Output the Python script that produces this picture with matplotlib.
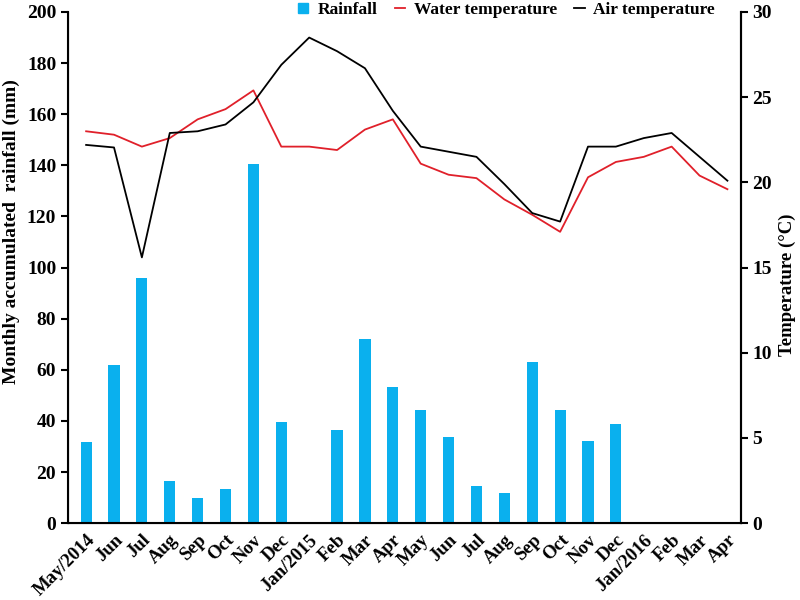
import numpy as np
import matplotlib.pyplot as plt

months = ['May/2014', 'Jun', 'Jul', 'Aug', 'Sep', 'Oct', 'Nov', 'Dec', 'Jan/2015', 'Feb',
          'Mar', 'Apr', 'May', 'Jun', 'Jul', 'Aug', 'Sep', 'Oct', 'Nov', 'Dec',
          'Jan/2016', 'Feb', 'Mar', 'Apr']
rainfall = [31.6, 61.7, 96.0, 16.7, 9.9, 13.5, 140.5, 39.7, 0.0, 36.6,
            71.9, 53.1, 44.4, 33.6, 14.5, 11.9, 63.1, 44.2, 32.2, 38.8,
            0.0, 0.2, 0.0, 0.0]
water_temp = [23.0, 22.8, 22.1, 22.6, 23.7, 24.3, 25.4, 22.1, 22.1, 21.9,
              23.1, 23.7, 21.1, 20.45, 20.25, 19.0, 18.1, 17.1, 20.3, 21.2,
              21.5, 22.1, 20.4, 19.6]
air_temp = [22.2, 22.05, 15.6, 22.9, 23.0, 23.4, 24.7, 26.9, 28.5, 27.7,
            26.7, 24.2, 22.1, 21.8, 21.5, 19.9, 18.2, 17.7, 22.1, 22.1,
            22.6, 22.9, 21.5, 20.1]

plt.rcParams['font.family'] = 'Liberation Serif'
plt.rcParams['font.weight'] = 'bold'

fig = plt.figure(figsize=(8, 6), dpi=100)
ax = fig.add_axes([0.085, 0.128, 0.841, 0.852])
x = np.arange(len(months))

ax.bar(x, rainfall, width=0.4, color='#0AB0EE', label='Rainfall')
ax.set_ylim(0, 200)
ax.set_xlim(-0.65, 23.48)
ax.set_yticks(range(0, 201, 20))
ax.set_xticks(x)
ax.set_xticklabels(months, rotation=45, ha='right', rotation_mode='anchor', fontsize=13.5, fontweight='bold')
ax.tick_params(axis='x', length=0, pad=6)
ax.tick_params(axis='y', direction='out', length=5, width=1.5, labelsize=14)
ax.set_ylabel('Monthly accumulated  rainfall (mm)', fontsize=14, fontweight='bold')
ax.yaxis.set_label_coords(-0.072, 0.57)
ax.spines['top'].set_visible(False)
for s in ['left', 'bottom', 'right']:
    ax.spines[s].set_linewidth(1.5)

ax2 = ax.twinx()
l1, = ax2.plot(x, water_temp, color='#E0202A', lw=1.3, label='Water temperature')
l2, = ax2.plot(x, air_temp, color='black', lw=1.3, label='Air temperature')
ax2.set_ylim(0, 30)
ax2.set_yticks(range(0, 31, 5))
ax2.tick_params(axis='y', direction='out', length=5, width=1.5, labelsize=14)
ax2.set_ylabel('Temperature (°C)', fontsize=13.5, fontweight='bold')
ax2.yaxis.set_label_coords(1.056, 0.466)
ax2.spines['top'].set_visible(False)
ax2.spines['right'].set_linewidth(1.5)

rain_handle = plt.Line2D([], [], marker='s', linestyle='none', color='#0AB0EE', markersize=7)
ax2.legend([rain_handle, l1, l2], ['Rainfall', 'Water temperature', 'Air temperature'],
           loc='upper right', bbox_to_anchor=(0.985, 1.05), ncol=3, frameon=False,
           handlelength=0.6, handletextpad=0.5, columnspacing=1.0,
           prop={'weight': 'bold', 'size': 12.5})

fig.savefig('out.png', dpi=100)
